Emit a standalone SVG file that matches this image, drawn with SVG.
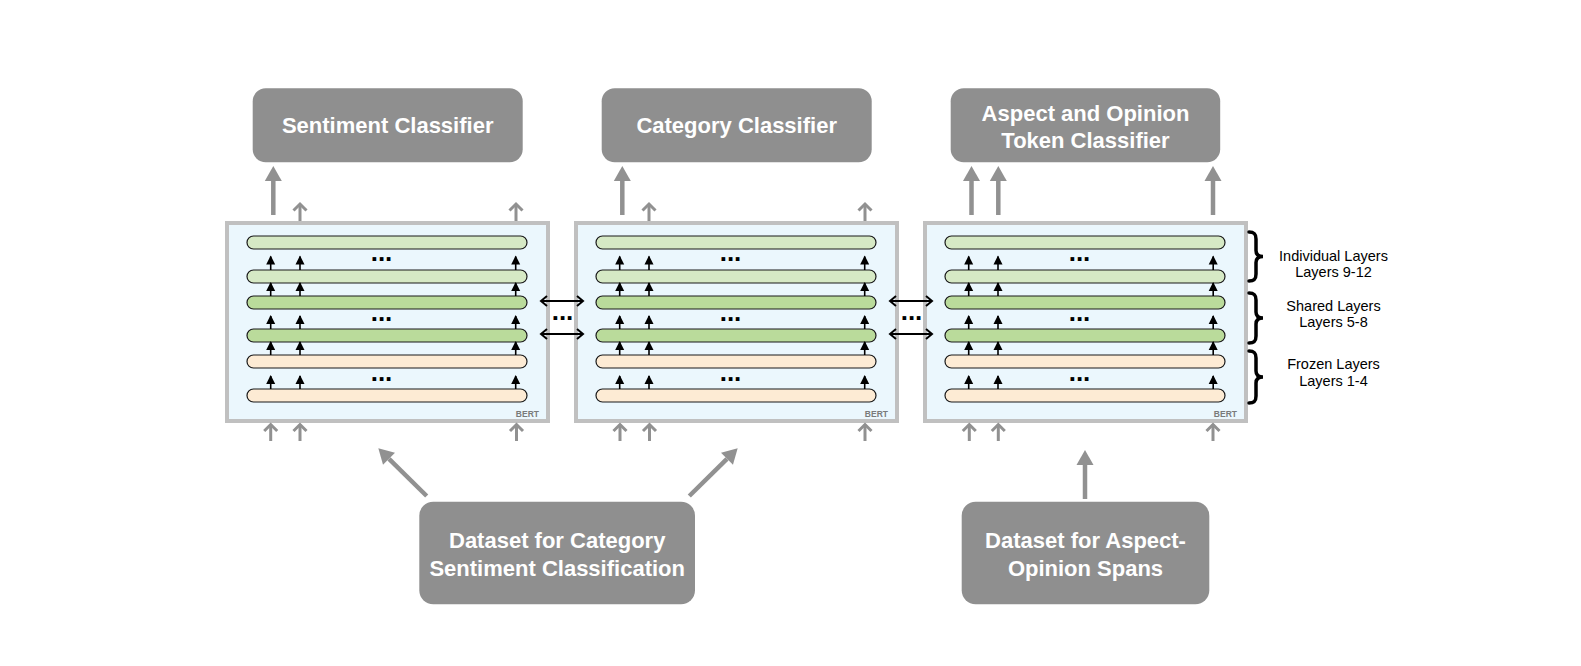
<svg xmlns="http://www.w3.org/2000/svg" width="1581" height="666" viewBox="0 0 1581 666">
<style>
.bg{fill:#ffffff}
.cls{fill:#8f8f8f}
.ct{fill:#ffffff;font-family:"Liberation Sans",Arial,sans-serif;font-weight:bold;font-size:22px;text-anchor:middle}
.bert{fill:#ebf7fd;stroke:#c0c0c0;stroke-width:4}
.bl{fill:#7a7a7a;font-family:"Liberation Sans",Arial,sans-serif;font-weight:bold;font-size:8.5px;text-anchor:end}
.ind{fill:#d6e9c5;stroke:#1a1a1a;stroke-width:1.2}
.sh{fill:#badb9b;stroke:#1a1a1a;stroke-width:1.2}
.fr{fill:#fdebd4;stroke:#1a1a1a;stroke-width:1.2}
.dots{fill:#000;font-family:"Liberation Sans",Arial,sans-serif;font-weight:bold;font-size:26px;text-anchor:middle}
.lab{fill:#000;font-family:"Liberation Sans",Arial,sans-serif;font-size:14.5px;text-anchor:middle}
.thick{stroke:#919191;stroke-width:4.5;fill:none;marker-end:url(#gh)}
.thin{stroke:#919191;stroke-width:3;fill:none;marker-end:url(#gc)}
.blk{stroke:#000;stroke-width:1.6;fill:none;marker-end:url(#bh)}
.dbl{stroke:#000;stroke-width:2;fill:none;marker-start:url(#bc);marker-end:url(#bc)}
.brace{stroke:#000;stroke-width:3.5;fill:none;stroke-linecap:round}
</style>
<defs>
<marker id="gh" markerUnits="userSpaceOnUse" markerWidth="16" markerHeight="17" viewBox="0 0 16 17" refX="0" refY="8.5" orient="auto" overflow="visible">
<path d="M0,0 L15,8.5 L0,17 Z" fill="#919191"/>
</marker>
<marker id="gc" markerUnits="userSpaceOnUse" markerWidth="10" markerHeight="14" viewBox="0 0 10 14" refX="8" refY="7" orient="auto" overflow="visible">
<path d="M1.5,0.5 L8,7 L1.5,13.5" fill="none" stroke="#919191" stroke-width="3"/>
</marker>
<marker id="bh" markerUnits="userSpaceOnUse" markerWidth="9" markerHeight="9" viewBox="0 0 9 9" refX="8" refY="4.5" orient="auto" overflow="visible">
<path d="M0,0 L9,4.5 L0,9 Z" fill="#000"/>
</marker>
<marker id="bc" markerUnits="userSpaceOnUse" markerWidth="8" markerHeight="12" viewBox="0 0 8 12" refX="7" refY="6" orient="auto-start-reverse" overflow="visible">
<path d="M1,1 L7,6 L1,11" fill="none" stroke="#000" stroke-width="2"/>
</marker>
</defs>
<rect class="bg" x="0" y="0" width="1581" height="666"/>

<g id="sentiment-classifier">
<rect class="cls" x="252.7" y="88.3" width="270" height="74" rx="13"/>
<text class="ct" x="387.7" y="133.3">Sentiment Classifier</text>
</g>
<g id="category-classifier">
<rect class="cls" x="601.7" y="88.3" width="270" height="74" rx="13"/>
<text class="ct" x="736.7" y="133.3">Category Classifier</text>
</g>
<g id="aspect-opinion-classifier">
<rect class="cls" x="950.7" y="88.3" width="269.5" height="74" rx="13"/>
<text class="ct" x="1085.5" y="121">Aspect and Opinion</text>
<text class="ct" x="1085.5" y="147.5">Token Classifier</text>
</g>

<g id="bert-1">
<rect class="bert" x="227" y="223" width="321" height="198"/>
<rect class="ind" x="247" y="236" width="280" height="13" rx="6.5"/>
<rect class="ind" x="247" y="270" width="280" height="13" rx="6.5"/>
<rect class="sh" x="247" y="296" width="280" height="13" rx="6.5"/>
<rect class="sh" x="247" y="329" width="280" height="13" rx="6.5"/>
<rect class="fr" x="247" y="355" width="280" height="13" rx="6.5"/>
<rect class="fr" x="247" y="389" width="280" height="13" rx="6.5"/>
<text class="dots" x="381.5" y="261">...</text>
<text class="dots" x="381.5" y="320.5">...</text>
<text class="dots" x="381.5" y="380.5">...</text>
<text class="bl" x="539" y="416.5">BERT</text>
</g>
<g id="bert-2">
<rect class="bert" x="576" y="223" width="321" height="198"/>
<rect class="ind" x="596" y="236" width="280" height="13" rx="6.5"/>
<rect class="ind" x="596" y="270" width="280" height="13" rx="6.5"/>
<rect class="sh" x="596" y="296" width="280" height="13" rx="6.5"/>
<rect class="sh" x="596" y="329" width="280" height="13" rx="6.5"/>
<rect class="fr" x="596" y="355" width="280" height="13" rx="6.5"/>
<rect class="fr" x="596" y="389" width="280" height="13" rx="6.5"/>
<text class="dots" x="730.5" y="261">...</text>
<text class="dots" x="730.5" y="320.5">...</text>
<text class="dots" x="730.5" y="380.5">...</text>
<text class="bl" x="888" y="416.5">BERT</text>
</g>
<g id="bert-3">
<rect class="bert" x="925" y="223" width="321" height="198"/>
<rect class="ind" x="945" y="236" width="280" height="13" rx="6.5"/>
<rect class="ind" x="945" y="270" width="280" height="13" rx="6.5"/>
<rect class="sh" x="945" y="296" width="280" height="13" rx="6.5"/>
<rect class="sh" x="945" y="329" width="280" height="13" rx="6.5"/>
<rect class="fr" x="945" y="355" width="280" height="13" rx="6.5"/>
<rect class="fr" x="945" y="389" width="280" height="13" rx="6.5"/>
<text class="dots" x="1079.5" y="261">...</text>
<text class="dots" x="1079.5" y="320.5">...</text>
<text class="dots" x="1079.5" y="380.5">...</text>
<text class="bl" x="1237" y="416.5">BERT</text>
</g>

<g id="dataset-category-sentiment">
<rect class="cls" x="419.3" y="501.7" width="275.7" height="102.6" rx="14"/>
<text class="ct" x="557.2" y="548">Dataset for Category</text>
<text class="ct" x="557.2" y="576">Sentiment Classification</text>
</g>
<g id="dataset-aspect-opinion">
<rect class="cls" x="961.7" y="501.7" width="247.6" height="102.6" rx="14"/>
<text class="ct" x="1085.5" y="548">Dataset for Aspect-</text>
<text class="ct" x="1085.5" y="576">Opinion Spans</text>
</g>

<g id="layer-legend">
<path class="brace" d="M1249,232 C1254,232 1256,234 1256,239 L1256,250.5 C1256,254.5 1258,256.5 1263,256.5 C1258,256.5 1256,258.5 1256,262.5 L1256,274 C1256,279 1254,281 1249,281"/>
<path class="brace" d="M1249,293 C1254,293 1256,295 1256,300 L1256,312 C1256,316 1258,318 1263,318 C1258,318 1256,320 1256,324 L1256,336 C1256,341 1254,343 1249,343"/>
<path class="brace" d="M1249,351 C1254,351 1256,353 1256,358 L1256,371 C1256,375 1258,377 1263,377 C1258,377 1256,379 1256,383 L1256,396 C1256,401 1254,403 1249,403"/>
<text class="lab" x="1333.5" y="260.7">Individual Layers</text>
<text class="lab" x="1333.5" y="277.3">Layers 9-12</text>
<text class="lab" x="1333.5" y="310.7">Shared Layers</text>
<text class="lab" x="1333.5" y="327.3">Layers 5-8</text>
<text class="lab" x="1333.5" y="369">Frozen Layers</text>
<text class="lab" x="1333.5" y="385.7">Layers 1-4</text>
</g>

<g id="connectors">
<!-- thick outputs to classifiers -->
<line class="thick" x1="273.3" y1="215" x2="273.3" y2="181"/>
<line class="thick" x1="622.3" y1="215" x2="622.3" y2="181"/>
<line class="thick" x1="971.5" y1="215" x2="971.5" y2="181"/>
<line class="thick" x1="998.3" y1="215" x2="998.3" y2="181"/>
<line class="thick" x1="1213" y1="215" x2="1213" y2="181"/>
<!-- small outputs above boxes -->
<line class="thin" x1="300" y1="221" x2="300" y2="204"/>
<line class="thin" x1="516" y1="221" x2="516" y2="204"/>
<line class="thin" x1="649" y1="221" x2="649" y2="204"/>
<line class="thin" x1="865" y1="221" x2="865" y2="204"/>
<!-- small inputs below boxes -->
<line class="thin" x1="270.7" y1="441" x2="270.7" y2="424.5"/>
<line class="thin" x1="300" y1="441" x2="300" y2="424.5"/>
<line class="thin" x1="516.5" y1="441" x2="516.5" y2="424.5"/>
<line class="thin" x1="620" y1="441" x2="620" y2="424.5"/>
<line class="thin" x1="649.5" y1="441" x2="649.5" y2="424.5"/>
<line class="thin" x1="865" y1="441" x2="865" y2="424.5"/>
<line class="thin" x1="969.3" y1="441" x2="969.3" y2="424.5"/>
<line class="thin" x1="998.3" y1="441" x2="998.3" y2="424.5"/>
<line class="thin" x1="1213" y1="441" x2="1213" y2="424.5"/>
<!-- dataset arrows -->
<line class="thick" x1="426.7" y1="496" x2="389" y2="458.8"/>
<line class="thick" x1="689.3" y1="496" x2="727" y2="458.8"/>
<line class="thick" x1="1085" y1="499" x2="1085" y2="465"/>
<!-- shared layer links -->
<line class="dbl" x1="541" y1="301" x2="583" y2="301"/>
<line class="dbl" x1="541" y1="334" x2="583" y2="334"/>
<text class="dots" x="562.5" y="320">...</text>
<line class="dbl" x1="890" y1="301" x2="932" y2="301"/>
<line class="dbl" x1="890" y1="334" x2="932" y2="334"/>
<text class="dots" x="911.5" y="320">...</text>
<!-- internal arrows box 1 -->
<g>
<line class="blk" x1="270.7" y1="270" x2="270.7" y2="256.5"/>
<line class="blk" x1="300" y1="270" x2="300" y2="256.5"/>
<line class="blk" x1="515.7" y1="270" x2="515.7" y2="256.5"/>
<line class="blk" x1="270.7" y1="296" x2="270.7" y2="283"/>
<line class="blk" x1="300" y1="296" x2="300" y2="283"/>
<line class="blk" x1="515.7" y1="296" x2="515.7" y2="283"/>
<line class="blk" x1="270.7" y1="329" x2="270.7" y2="316"/>
<line class="blk" x1="300" y1="329" x2="300" y2="316"/>
<line class="blk" x1="515.7" y1="329" x2="515.7" y2="316"/>
<line class="blk" x1="270.7" y1="355" x2="270.7" y2="342"/>
<line class="blk" x1="300" y1="355" x2="300" y2="342"/>
<line class="blk" x1="515.7" y1="355" x2="515.7" y2="342"/>
<line class="blk" x1="270.7" y1="389" x2="270.7" y2="376"/>
<line class="blk" x1="300" y1="389" x2="300" y2="376"/>
<line class="blk" x1="515.7" y1="389" x2="515.7" y2="376"/>
</g>
<g>
<line class="blk" x1="619.7" y1="270" x2="619.7" y2="256.5"/>
<line class="blk" x1="649" y1="270" x2="649" y2="256.5"/>
<line class="blk" x1="864.7" y1="270" x2="864.7" y2="256.5"/>
<line class="blk" x1="619.7" y1="296" x2="619.7" y2="283"/>
<line class="blk" x1="649" y1="296" x2="649" y2="283"/>
<line class="blk" x1="864.7" y1="296" x2="864.7" y2="283"/>
<line class="blk" x1="619.7" y1="329" x2="619.7" y2="316"/>
<line class="blk" x1="649" y1="329" x2="649" y2="316"/>
<line class="blk" x1="864.7" y1="329" x2="864.7" y2="316"/>
<line class="blk" x1="619.7" y1="355" x2="619.7" y2="342"/>
<line class="blk" x1="649" y1="355" x2="649" y2="342"/>
<line class="blk" x1="864.7" y1="355" x2="864.7" y2="342"/>
<line class="blk" x1="619.7" y1="389" x2="619.7" y2="376"/>
<line class="blk" x1="649" y1="389" x2="649" y2="376"/>
<line class="blk" x1="864.7" y1="389" x2="864.7" y2="376"/>
</g>
<g>
<line class="blk" x1="968.7" y1="270" x2="968.7" y2="256.5"/>
<line class="blk" x1="998" y1="270" x2="998" y2="256.5"/>
<line class="blk" x1="1213.2" y1="270" x2="1213.2" y2="256.5"/>
<line class="blk" x1="968.7" y1="296" x2="968.7" y2="283"/>
<line class="blk" x1="998" y1="296" x2="998" y2="283"/>
<line class="blk" x1="1213.2" y1="296" x2="1213.2" y2="283"/>
<line class="blk" x1="968.7" y1="329" x2="968.7" y2="316"/>
<line class="blk" x1="998" y1="329" x2="998" y2="316"/>
<line class="blk" x1="1213.2" y1="329" x2="1213.2" y2="316"/>
<line class="blk" x1="968.7" y1="355" x2="968.7" y2="342"/>
<line class="blk" x1="998" y1="355" x2="998" y2="342"/>
<line class="blk" x1="1213.2" y1="355" x2="1213.2" y2="342"/>
<line class="blk" x1="968.7" y1="389" x2="968.7" y2="376"/>
<line class="blk" x1="998" y1="389" x2="998" y2="376"/>
<line class="blk" x1="1213.2" y1="389" x2="1213.2" y2="376"/>
</g>
</g>
</svg>
